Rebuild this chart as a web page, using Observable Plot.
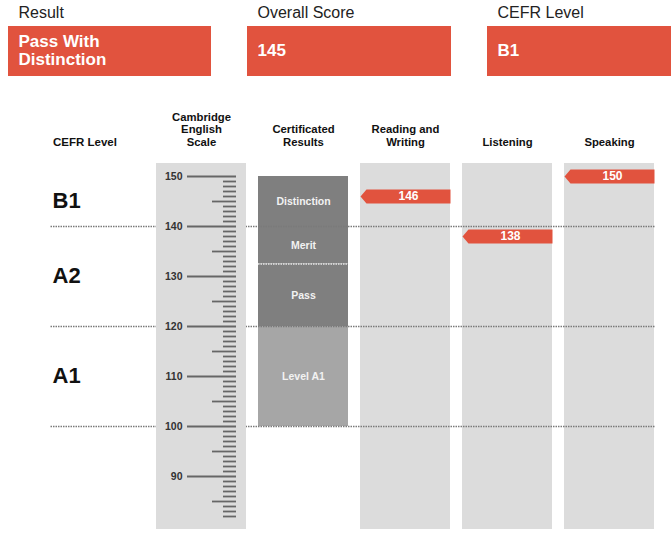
<!DOCTYPE html>
<html>
<head>
<meta charset="utf-8">
<script src="https://cdn.jsdelivr.net/npm/d3@7"></script>
<script src="https://cdn.jsdelivr.net/npm/@observablehq/plot@0.6"></script>
<style>
  html, body { margin: 0; padding: 0; background: #fff; }
  body { width: 671px; font-family: "Liberation Sans", Arial, sans-serif; }
  #head { position: relative; width: 671px; height: 95px; }
  .lab { position: absolute; top: 4px; font-size: 16px; color: #222; line-height: 18px; }
  .box { position: absolute; top: 26px; height: 50px; background: #e1533e; color: #fff;
         font-weight: bold; font-size: 17px; line-height: 17.6px; display: flex; align-items: center;
         box-sizing: border-box; padding-left: 10.5px; }
  #chart svg { display: block; }
</style>
</head>
<body>
<div id="head"></div>
<div id="chart"></div>
<script>
// ---- data ----
const summaryLabels = ["Result", "Overall Score", "CEFR Level"];
const summaryValues = ["Pass With\nDistinction", "145", "B1"];

const columns = ["CEFR Level", "Cambridge English Scale", "Certificated Results", "Reading and Writing", "Listening", "Speaking"];
const columnHeaders = ["CEFR Level", "Cambridge\nEnglish\nScale", "Certificated\nResults", "Reading and\nWriting", "Listening", "Speaking"];

const cefrLevels = ["B1", "A2", "A1"];
const cefrLabelAt = [145, 130, 110];
const cefrBoundaries = [140, 120, 100];

const scaleLabels = [150, 140, 130, 120, 110, 100, 90];
const scaleHalfTicks = [145, 135, 125, 115, 105, 95, 85];
const scaleMinorTicks = d3.range(82, 150).filter(v => v % 5 !== 0);

const certLevels = ["Distinction", "Merit", "Pass", "Level A1"];
const certLow = [140, 132.5, 120, 100];
const certHigh = [150, 140, 132.5, 120];
const certColors = ["#7f7f7f", "#7f7f7f", "#7f7f7f", "#a6a6a6"];
const certInnerBoundaries = [132.5];

const skills = ["Reading and Writing", "Listening", "Speaking"];
const skillScores = [146, 138, 150];

const yDomain = [79.4, 152.6];

// ---- header ----
const headPos = [{l: 8, w: 203}, {l: 247, w: 204}, {l: 487, w: 184}];
const head = document.getElementById("head");
summaryLabels.forEach((t, i) => {
  const a = document.createElement("div");
  a.className = "lab"; a.style.left = (headPos[i].l + 10.5) + "px"; a.textContent = t;
  head.appendChild(a);
  const b = document.createElement("div");
  b.className = "box"; b.style.left = headPos[i].l + "px"; b.style.width = headPos[i].w + "px";
  b.innerHTML = summaryValues[i].split("\n").join("<br>");
  head.appendChild(b);
});

// ---- chart ----
const cert = certLevels.map((name, i) => ({name, lo: certLow[i], hi: certHigh[i], color: certColors[i]}));
const scores = skills.map((s, i) => ({skill: s, score: skillScores[i]}));
const cefr = cefrLevels.map((l, i) => ({level: l, y: cefrLabelAt[i]}));
const headers = columns.map((c, i) => ({col: c, text: columnHeaders[i]}));

const RED = "#e1533e";
const arrowShape = {
  draw(c) {
    c.moveTo(-45, 0); c.lineTo(-39, -7); c.lineTo(45, -7); c.lineTo(45, 7); c.lineTo(-39, 7); c.closePath();
  }
};
const SCALE = "Cambridge English Scale";
const CERT = "Certificated Results";

const chart = Plot.plot({
  width: 671,
  height: 448,
  marginTop: 68,
  marginBottom: 14,
  marginLeft: 50.5,
  marginRight: 16,
  style: {fontFamily: "'Liberation Sans', Arial, sans-serif", background: "#fff", overflow: "visible"},
  x: {type: "band", domain: columns, range: [52.5, 655], paddingInner: 0.122, paddingOuter: 0, axis: null},
  y: {domain: yDomain, axis: null},
  marks: [
    Plot.cell(skills, {x: d => d, fill: "#dcdcdc", inset: 0}),
    Plot.barY(cert, {x: () => CERT, y1: "lo", y2: "hi", fill: "color", inset: 0}),
    Plot.ruleY(cefrBoundaries, {stroke: "#7a7a7a", strokeWidth: 1.5, strokeDasharray: "1.5,1"}),
    Plot.tickY(certInnerBoundaries, {x: () => CERT, y: d => d, stroke: "#e6e6e6", strokeWidth: 1.5, strokeDasharray: "1.5,1"}),
    Plot.cell([SCALE], {x: d => d, fill: "#dcdcdc", inset: 0}),
    Plot.tickY(scaleMinorTicks, {x: () => SCALE, y: d => d, stroke: "#666", strokeWidth: 1.8, insetLeft: 67, insetRight: 10}),
    Plot.tickY(scaleHalfTicks, {x: () => SCALE, y: d => d, stroke: "#666", strokeWidth: 1.8, insetLeft: 56, insetRight: 10}),
    Plot.tickY(scaleLabels, {x: () => SCALE, y: d => d, stroke: "#666", strokeWidth: 1.8, insetLeft: 31, insetRight: 10}),
    Plot.text(scaleLabels, {x: () => SCALE, y: d => d, text: d => String(d), dx: -19, textAnchor: "end", fontSize: 10.5, fontWeight: "bold", fill: "#333"}),
    Plot.text(cert, {x: () => CERT, y: d => (d.lo + d.hi) / 2, text: "name", fill: "#f2f2f2", fontSize: 10.5, fontWeight: "bold"}),
    Plot.dot(scores, {x: "skill", y: "score", symbol: arrowShape, fill: RED, stroke: null, r: 5}),
    Plot.text(scores, {x: "skill", y: "score", text: d => String(d.score), dx: 3, fill: "#fff", fontSize: 12, fontWeight: "bold"}),
    Plot.text(cefr, {x: () => "CEFR Level", y: "y", text: "level", dx: -47, dy: -0.5, textAnchor: "start", fontSize: 22, fontWeight: "bold", fill: "#111"}),
    Plot.text(headers.slice(1), {x: "col", frameAnchor: "top", text: "text", lineAnchor: "bottom", dy: -18, lineHeight: 1.08, fontSize: 11.3, fontWeight: "bold", fill: "#111"}),
    Plot.text(headers.slice(0, 1), {x: "col", frameAnchor: "top", text: "text", lineAnchor: "bottom", dy: -18, dx: -46.5, textAnchor: "start", fontSize: 11.5, fontWeight: "bold", fill: "#111"})
  ]
});
document.getElementById("chart").appendChild(chart);
</script>
</body>
</html>
